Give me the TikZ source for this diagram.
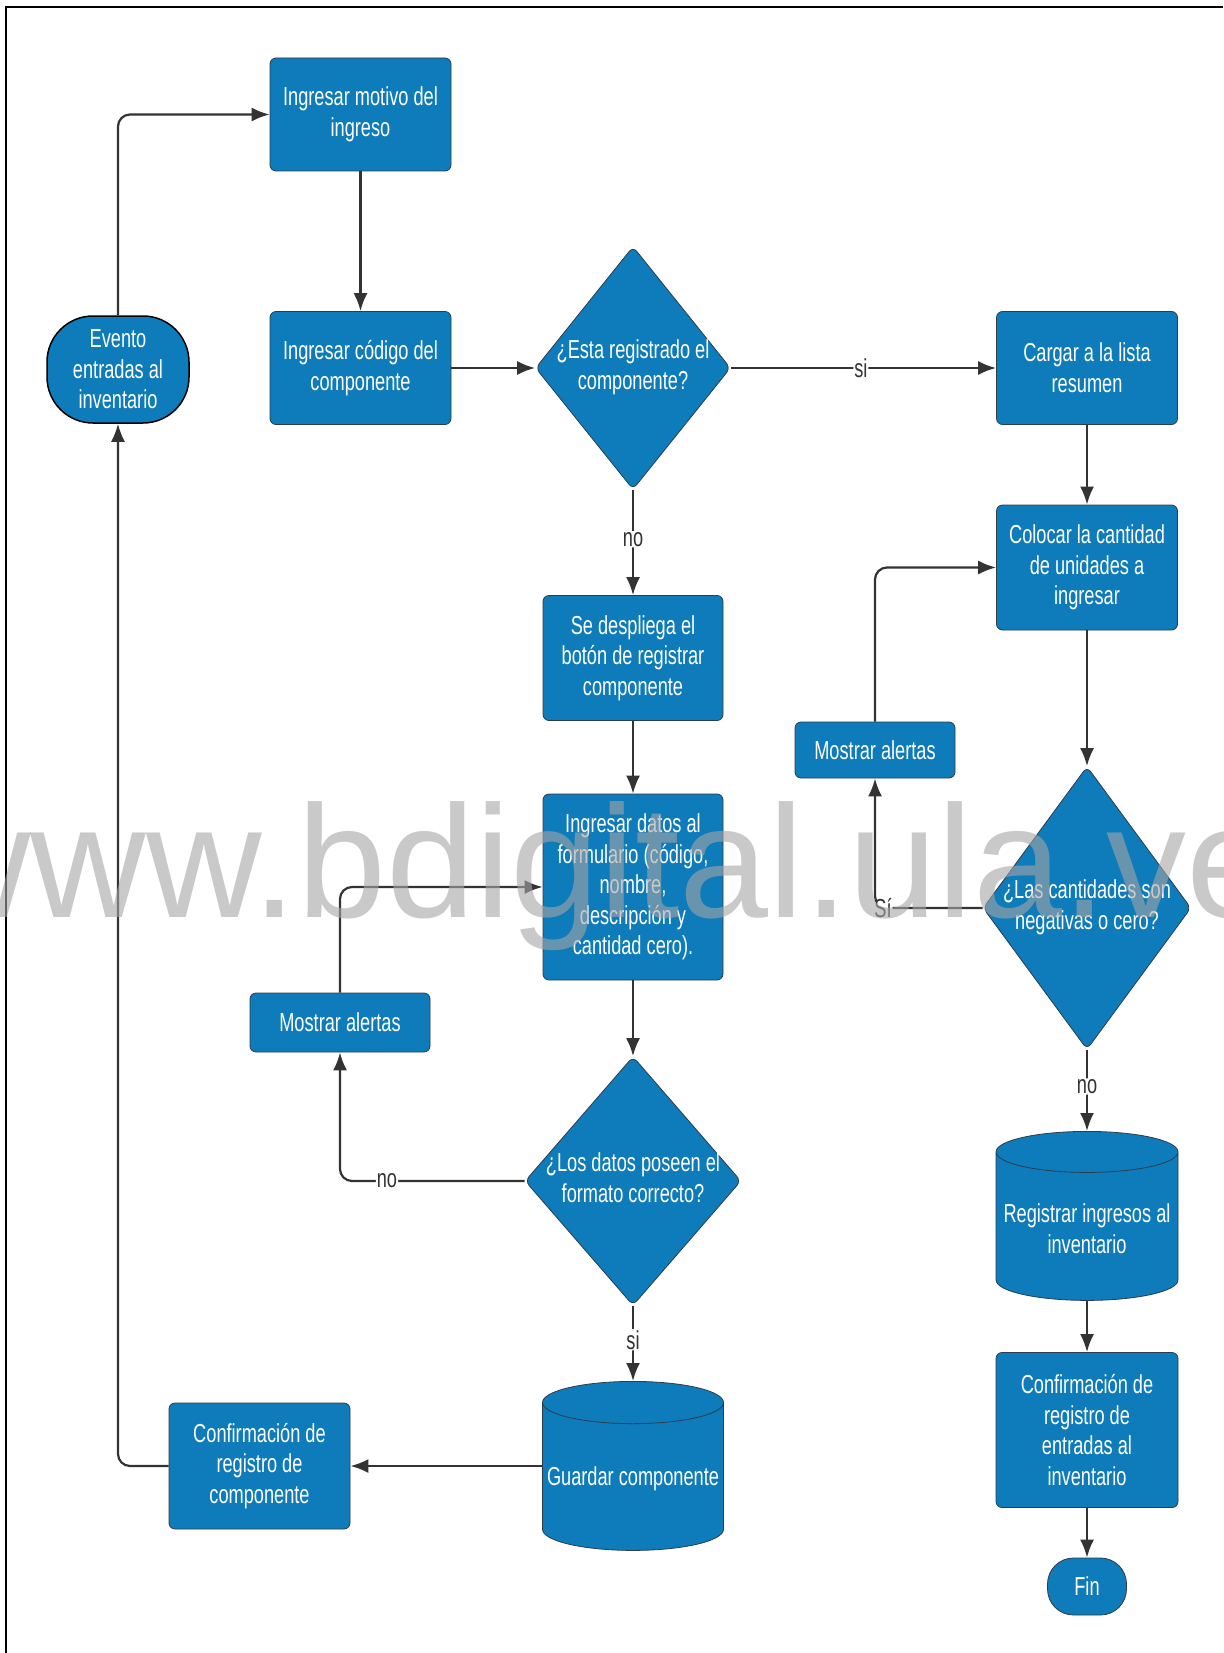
\documentclass[tikz,border=0pt]{standalone}
\usepackage{fontspec}
\setmainfont[FakeStretch=0.7]{Liberation Sans}
\newfontfamily\wmfont{Liberation Sans}
\usetikzlibrary{shapes.geometric,arrows.meta}
\definecolor{flowblue}{RGB}{14,123,186}
\definecolor{edgegrey}{RGB}{45,60,75}
\definecolor{linegrey}{RGB}{51,51,51}
% centred multi-line text of zero width, so a diamond keeps its given size
\newcommand\dlines[1]{\makebox[0pt]{\begin{tabular}{@{}c@{}}#1\end{tabular}}}
\begin{document}
\begin{tikzpicture}[x=1pt,y=-1pt,
  every node/.style={font=\fontsize{26}{30.6}\selectfont},
  proc/.style={rectangle, rounded corners=6pt, fill=flowblue, draw=edgegrey,
    line width=0.8pt, text=white, align=center, inner sep=2pt},
  decision/.style={diamond, rounded corners=6pt, fill=flowblue, draw=edgegrey,
    line width=0.8pt, text=white, inner sep=0pt},
  terminal/.style={rectangle, fill=flowblue, draw=edgegrey, line width=0.8pt,
    text=white, align=center, inner sep=2pt},
  store/.style={cylinder, shape border rotate=90, aspect=0.24, fill=flowblue,
    draw=edgegrey, line width=0.8pt, text=white, align=center, inner sep=2pt,
    anchor=north},
  flow/.style={draw=linegrey, line width=2.2pt, rounded corners=12pt,
    -{Latex[length=18pt,width=14pt]}},
  tag/.style={fill=white, text=linegrey, inner sep=1pt}
]
\useasboundingbox (0,0) rectangle (1223,1653);
\fill[white] (0,0) rectangle (1223,1653);
% frame
\draw[line width=1.8pt, black] (6,1653) -- (6,7) -- (1223,7);

% left column and first steps
\node[terminal, draw=black, line width=1.5pt, rounded corners=46pt,
  minimum width=142, minimum height=107] (ev) at (118,369.5)
  {Evento\\entradas al\\inventario};
\node[proc, minimum width=181, minimum height=113] (mot) at (360.5,114.5)
  {Ingresar motivo del\\ingreso};
\node[proc, minimum width=181, minimum height=113] (cod) at (360.5,368)
  {Ingresar código del\\componente};
\node[decision, minimum width=195, minimum height=243] (d1) at (633,368)
  {\dlines{¿Esta registrado el\\componente?}};

% middle column
\node[proc, minimum width=180, minimum height=125] (desp) at (633,658)
  {Se despliega el\\botón de registrar\\componente};
\node[proc, minimum width=180, minimum height=186] (datos) at (633,887)
  {Ingresar datos al\\formulario (código,\\nombre,\\descripción y\\cantidad cero).};
\node[proc, minimum width=180, minimum height=59] (malL) at (340,1022.5)
  {Mostrar alertas};
\node[decision, minimum width=216, minimum height=249] (d3) at (633,1181)
  {\dlines{¿Los datos poseen el\\formato correcto?}};
\node[store, minimum width=181, minimum height=169] (gua) at (633,1381)
  {Guardar componente};
\node[proc, minimum width=181, minimum height=126] (cc) at (259.5,1466)
  {Confirmación de\\registro de\\componente};

% right column
\node[proc, minimum width=181, minimum height=113] (car) at (1087,368)
  {Cargar a la lista\\resumen};
\node[proc, minimum width=181, minimum height=125] (col) at (1087,567.5)
  {Colocar la cantidad\\de unidades a\\ingresar};
\node[proc, minimum width=160, minimum height=56] (malR) at (875,750)
  {Mostrar alertas};
\node[decision, minimum width=208, minimum height=283] (d2) at (1087,908)
  {\dlines{¿Las cantidades son\\negativas o cero?}};
\node[store, minimum width=182, minimum height=169] (reg) at (1087,1131)
  {Registrar ingresos al\\inventario};
\node[proc, minimum width=182, minimum height=155] (ce) at (1087,1430)
  {Confirmación de\\registro de\\entradas al\\inventario};
\node[terminal, rounded corners=26pt, minimum width=79, minimum height=57]
  (fin) at (1087,1586.5) {Fin};

% connectors
\draw[flow] (ev.north) |- (mot.west);
\draw[flow] (mot) -- (cod);
\draw[flow] (cod) -- (d1.west);
\draw[flow] (d1.east) -- node[tag, pos=0.49] {si} (car);
\draw[flow] (d1.south) -- node[tag, pos=0.47] {no} (desp);
\draw[flow] (desp) -- (datos);
\draw[flow] (datos) -- (d3.north);
\draw[flow] (d3.west) -| node[tag, pos=0.373] {no} (malL.south);
\draw[flow] (malL.north) |- (datos.west);
\draw[flow] (d3.south) -- node[tag, pos=0.45] {si} (gua.north);
\draw[flow] (gua.west |- cc.east) -- (cc.east);
\draw[flow] (cc.west) -| (ev.south);
\draw[flow] (car) -- (col);
\draw[flow] (col) -- (d2.north);
\draw[flow] (d2.west) -| node[tag, pos=0.5, xshift=8pt] {Sí} (malR.south);
\draw[flow] (malR.north) |- (col.west);
\draw[flow] (d2.south) -- node[tag, pos=0.45] {no} (reg.north);
\draw[flow] (reg) -- (ce);
\draw[flow] (ce) -- (fin);

% watermark across the sheet
\node[anchor=base west, inner sep=0pt, font=\wmfont\fontsize{160}{160}\selectfont,
  text=black!35, opacity=0.6] (wm) at (-85,917) {www.bdigital.ula.ve};
\end{tikzpicture}
\end{document}
